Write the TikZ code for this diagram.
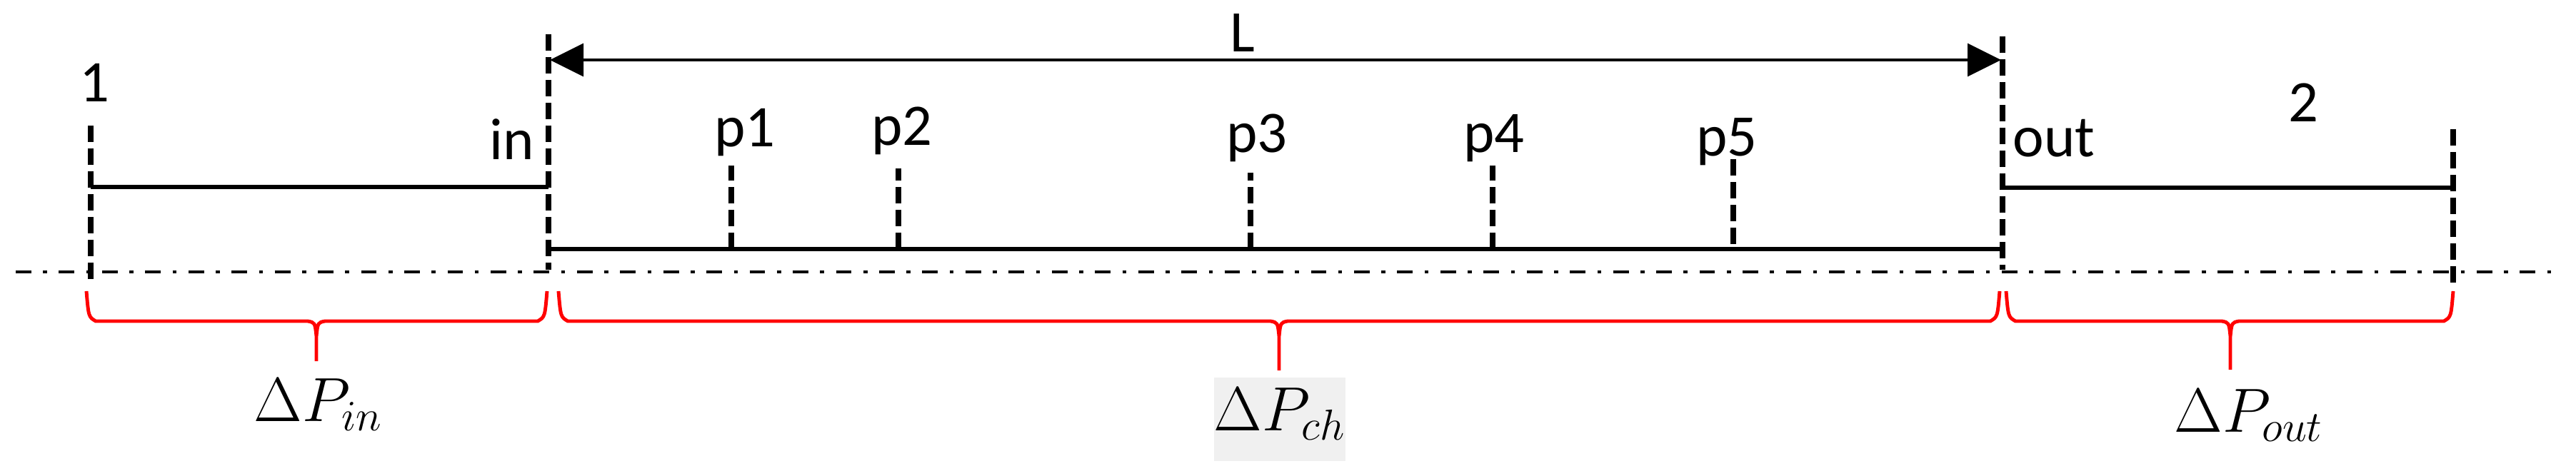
\documentclass[tikz,border=0pt]{standalone}
\usepackage{fontspec}
\setmainfont{Carlito}
\usetikzlibrary{arrows.meta}

\tikzset{
  wall/.style={line width=1.5pt},
  cut/.style={line width=2.2pt,dash pattern=on 6.5pt off 2.6pt},
  axisline/.style={line width=1.4pt,dash pattern=on 6.2pt off 4.7pt on 1.6pt off 4.7pt},
  lbl/.style={inner sep=0pt,anchor=base,font=\fontsize{23.5}{28}\selectfont},
  dpbr/.style={red,line width=1.4pt,line join=round},
}
% brace: left x, tip x, right x, tip y
\newcommand{\dpbrace}[4]{%
  \draw[dpbr] (#1,2.58) .. controls (#1+.03,2.22) .. (#1+.13,2.16) -- (#2-.12,2.16)
    .. controls (#2-.02,2.14) .. (#2,1.95) -- (#2,#4)
    (#3,2.58) .. controls (#3-.03,2.22) .. (#3-.13,2.16) -- (#2+.12,2.16)
    .. controls (#2+.02,2.14) .. (#2,1.95);}

\begin{document}
\begin{tikzpicture}[>={Triangle[length=4.7mm,width=4.6mm]}]
 \useasboundingbox (0,0) rectangle (36.07,6.66);
 % axis
 \draw[axisline] (0.22,2.85)--(35.83,2.85);
 % sections
 \draw[cut] (1.27,4.90)--(1.27,2.69);
 \draw[cut] (7.68,6.18)--(7.68,2.88);
 \draw[cut] (28.04,6.15)--(28.04,2.88);
 \draw[cut] (34.35,4.85)--(34.35,2.65);
 % walls
 \draw[wall] (1.27,4.04)--(7.68,4.04);
 \draw[wall] (7.68,3.17)--(28.04,3.17);
 \draw[wall] (28.04,4.03)--(34.35,4.03);
 % probes
 \draw[cut] (10.24,3.17)--(10.24,4.34);
 \draw[cut] (12.58,3.17)--(12.58,4.30);
 \draw[cut] (17.51,3.17)--(17.51,4.24);
 \draw[cut] (20.90,3.17)--(20.90,4.34);
 \draw[cut] (24.27,3.24)--(24.27,4.43);
 % length
 \coordinate (Lin) at (7.70,5.82);
 \coordinate (Lout) at (28.02,5.82);
 \draw[<->,line width=1pt] (Lin)--(Lout);
 \node[lbl] (Llbl) at (17.40,5.94) {L};
 % labels
 \node[lbl] (sec1) at (1.32,5.24) {1};
 \node[lbl] (secin) at (7.17,4.43) {in};
 \node[lbl] (secout) at (28.76,4.47) {out};
 \node[lbl] (sec2) at (32.25,4.96) {2};
 \node[lbl] (lp1) at (10.43,4.61) {p1};
 \node[lbl] (lp2) at (12.63,4.63) {p2};
 \node[lbl] (lp3) at (17.60,4.53) {p3};
 \node[lbl] (lp4) at (20.92,4.53) {p4};
 \node[lbl] (lp5) at (24.18,4.48) {p5};
 % pressure drops
 \dpbrace{1.21}{4.43}{7.66}{1.60}
 \dpbrace{7.82}{17.91}{28.00}{1.47}
 \dpbrace{28.09}{31.23}{34.35}{1.48}
 \node[lbl] (dpin) at (4.46,0.76) {$\Delta P_{in}$};
 \node[lbl,fill=black!6,text height=0.74cm,text depth=0.43cm,minimum width=1.53cm] (dpch) at (17.92,0.63) {$\Delta P_{ch}$};
 \node[lbl] (dpout) at (31.49,0.61) {$\Delta P_{out}$};
\end{tikzpicture}
\end{document}
